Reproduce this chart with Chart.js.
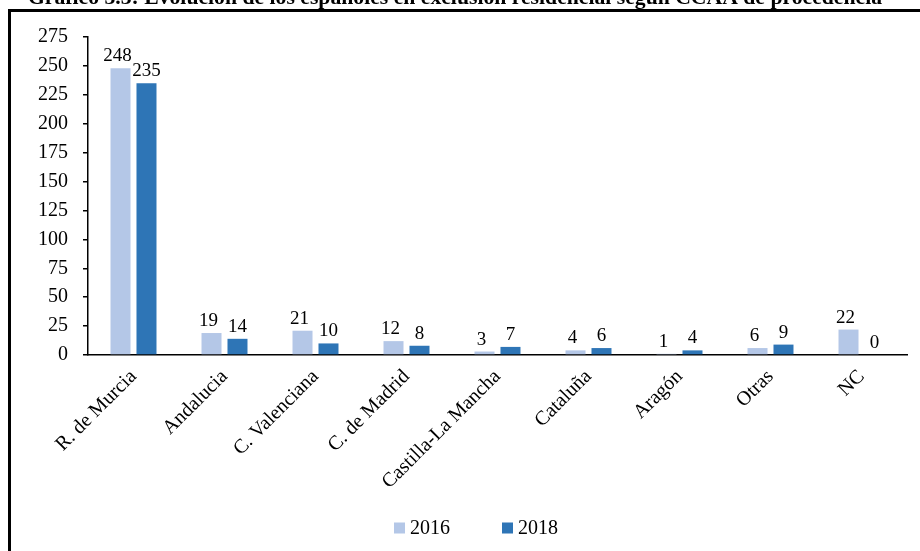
<!DOCTYPE html>
<html>
<head>
<meta charset="utf-8">
<script src="https://cdn.jsdelivr.net/npm/chart.js@4.4.1/dist/chart.umd.min.js"></script>
<style>
  html, body { margin: 0; padding: 0; background: #fff; }
  #wrap { width: 920px; height: 551px; position: relative; }
</style>
</head>
<body>
<div id="wrap"><canvas id="c" width="920" height="551"></canvas></div>
<script>
const chartTitle = 'Gráfico 3.3: Evolución de los españoles en exclusión residencial según CCAA de procedencia';
const categories = ['R. de Murcia', 'Andalucia', 'C. Valenciana', 'C. de Madrid', 'Castilla-La Mancha', 'Cataluña', 'Aragón', 'Otras', 'NC'];
const seriesNames = ['2016', '2018'];
const values2016 = [248, 19, 21, 12, 3, 4, 1, 6, 22];
const values2018 = [235, 14, 10, 8, 7, 6, 4, 9, 0];
const yTicks = [0, 25, 50, 75, 100, 125, 150, 175, 200, 225, 250, 275];

const colors = ['#B4C7E7', '#2E75B6'];
const SERIF = '"Liberation Serif", "Times New Roman", serif';

// Frame lines, cropped title, value labels and the legend row
const decorations = {
  id: 'decorations',
  afterDraw(chart) {
    const ctx = chart.ctx;
    ctx.save();
    // frame
    ctx.strokeStyle = '#000';
    ctx.lineWidth = 3;
    ctx.beginPath();
    ctx.moveTo(9.5, 551);
    ctx.lineTo(9.5, 10.5);
    ctx.lineTo(920, 10.5);
    ctx.stroke();
    // title
    ctx.fillStyle = '#000';
    ctx.font = 'bold 21.7px ' + SERIF;
    ctx.textAlign = 'center';
    ctx.textBaseline = 'alphabetic';
    ctx.fillText(chartTitle, 455, 4);
    // legend
    ctx.font = '20px ' + SERIF;
    ctx.textAlign = 'left';
    ctx.textBaseline = 'middle';
    const box = 11, gapText = 5, gapItem = 52;
    const widths = seriesNames.map(s => box + gapText + ctx.measureText(s).width);
    const total = widths.reduce((a, b) => a + b, 0) + gapItem * (seriesNames.length - 1);
    let x = 476 - total / 2;
    const yc = 528;
    seriesNames.forEach((s, i) => {
      ctx.fillStyle = colors[i];
      ctx.fillRect(x, yc - box / 2, box, box);
      ctx.fillStyle = '#000';
      ctx.fillText(s, x + box + gapText, yc + 1);
      x += widths[i] + gapItem;
    });
    ctx.restore();
  },
  afterDatasetsDraw(chart) {
    const ctx = chart.ctx;
    ctx.save();
    ctx.font = '19px ' + SERIF;
    ctx.fillStyle = '#000';
    ctx.textAlign = 'center';
    ctx.textBaseline = 'alphabetic';
    chart.data.datasets.forEach((ds, di) => {
      const meta = chart.getDatasetMeta(di);
      meta.data.forEach((bar, i) => {
        const dx = di === 0 ? -3 : 0;
        ctx.fillText(String(ds.data[i]), bar.x + dx, bar.y - 7);
      });
    });
    ctx.restore();
  }
};

new Chart(document.getElementById('c'), {
  type: 'bar',
  data: {
    labels: categories,
    datasets: [
      { label: seriesNames[0], data: values2016, backgroundColor: colors[0] },
      { label: seriesNames[1], data: values2018, backgroundColor: colors[1] }
    ]
  },
  options: {
    responsive: false,
    animation: false,
    devicePixelRatio: 1,
    layout: { padding: { left: 10, right: 13, top: 37, bottom: 0 } },
    datasets: { bar: { categoryPercentage: 0.571, barPercentage: 0.77 } },
    plugins: {
      legend: { display: false },
      title: { display: false },
      tooltip: { enabled: false }
    },
    scales: {
      x: {
        grid: { display: false },
        border: { display: true, color: '#000', width: 1.5 },
        ticks: {
          color: '#000',
          font: { family: SERIF, size: 20 },
          minRotation: 45,
          maxRotation: 45,
          padding: 2
        },
        afterFit(scale) { scale.height = 196; }
      },
      y: {
        min: 0,
        max: 275,
        afterBuildTicks(scale) { scale.ticks = yTicks.map(v => ({ value: v })); },
        grid: { drawOnChartArea: false, drawTicks: true, tickLength: 5, color: '#000', lineWidth: 1.5 },
        border: { display: true, color: '#000', width: 1.5 },
        ticks: {
          color: '#000',
          font: { family: SERIF, size: 20 },
          padding: 15
        },
        afterFit(scale) { scale.width = 78; }
      }
    }
  },
  plugins: [decorations]
});
</script>
</body>
</html>
